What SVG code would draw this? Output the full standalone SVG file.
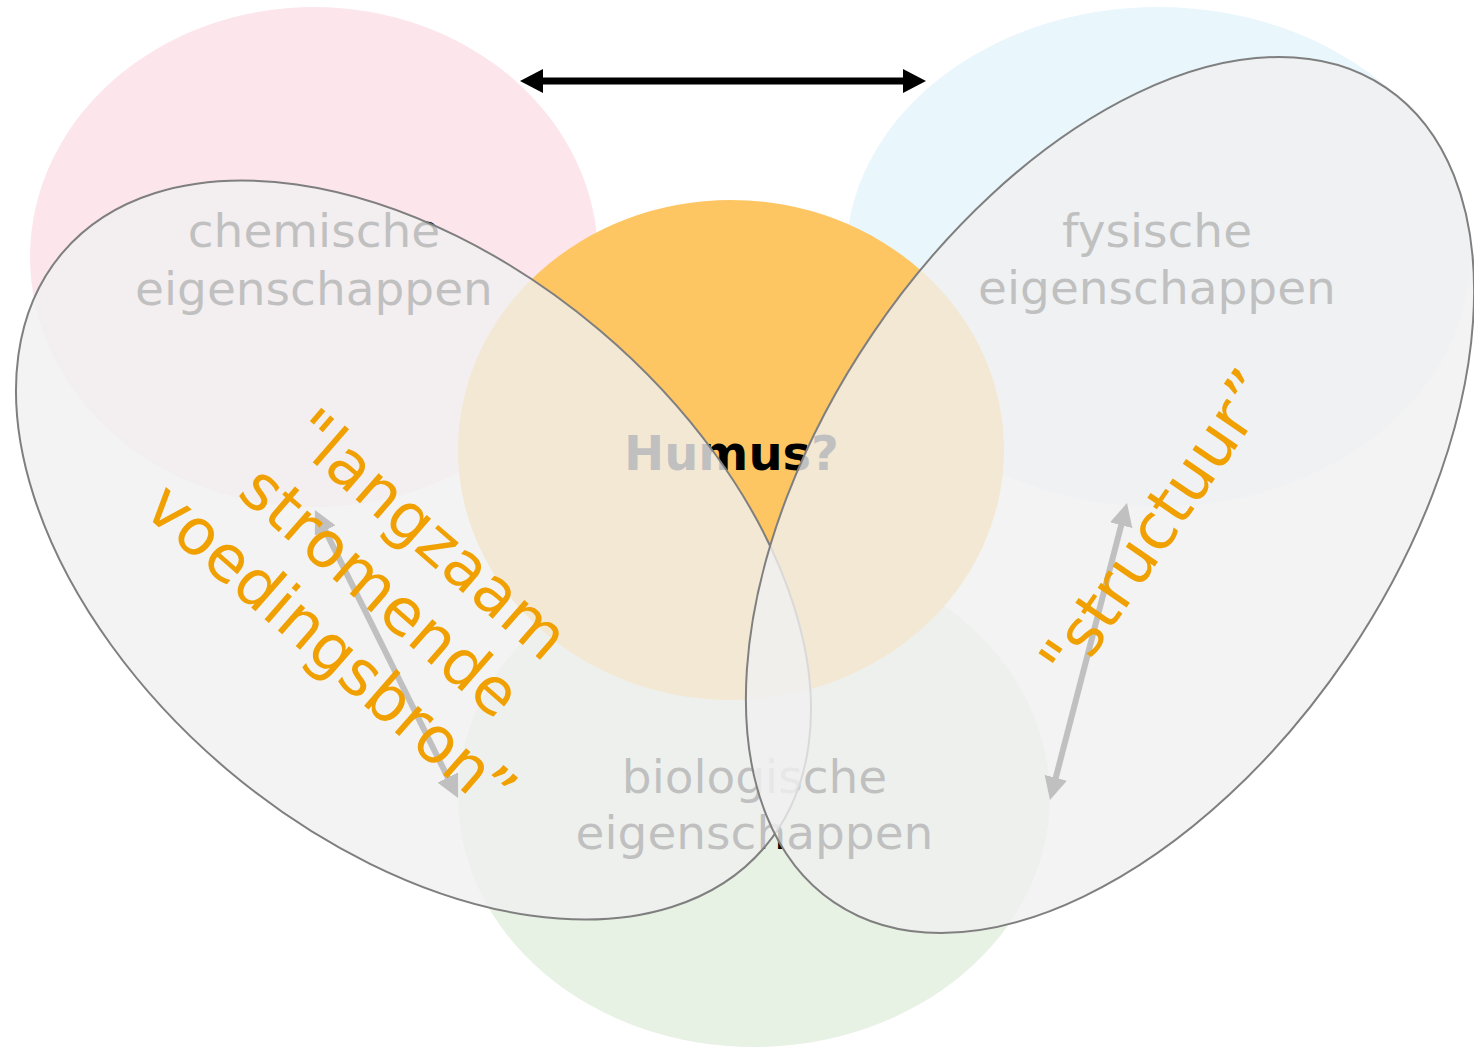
<svg xmlns="http://www.w3.org/2000/svg" width="1474" height="1048" viewBox="0 0 1474 1048">
<style>
  .lbl { font-family: "DejaVu Sans", Verdana, sans-serif; font-size: 47px; fill: #000; text-anchor: middle; }
  .humus { font-family: "DejaVu Sans", Verdana, sans-serif; font-size: 48px; font-weight: bold; fill: #000; text-anchor: middle; }
  .big { fill: #f0f0f0; fill-opacity: 0.8; stroke: #7f7f7f; stroke-width: 2; }
  .orange { font-family: "DejaVu Sans", Verdana, sans-serif; font-size: 64px; fill: #f0a000; text-anchor: middle; }
  .black-arrow { stroke: #000; stroke-width: 7; fill: none; marker-start: url(#blackHead); marker-end: url(#blackHead); }
  .gray-arrow { stroke: #c0c0c0; stroke-width: 6; fill: none; marker-start: url(#grayHead); marker-end: url(#grayHead); }
</style>
<defs>
  <marker id="blackHead" viewBox="0 0 23 24" refX="11" refY="12" markerWidth="23" markerHeight="24" markerUnits="userSpaceOnUse" orient="auto-start-reverse">
    <path d="M0,0 L23,12 L0,24 z" fill="#000"/>
  </marker>
  <marker id="grayHead" viewBox="0 0 23 23" refX="11" refY="11.5" markerWidth="23" markerHeight="23" markerUnits="userSpaceOnUse" orient="auto-start-reverse">
    <path d="M0,0 L23,11.5 L0,23 z" fill="#c0c0c0"/>
  </marker>
</defs>
<rect width="1474" height="1048" fill="#fff"/>

<g id="node-chemisch">
  <ellipse cx="314" cy="257" rx="284" ry="250" fill="#fce6ec"/>
  <text class="lbl" x="314" y="247">chemische</text>
  <text class="lbl" x="314" y="305">eigenschappen</text>
</g>
<g id="node-fysisch">
  <ellipse cx="1158" cy="257" rx="312" ry="250" fill="#e9f6fc"/>
  <text class="lbl" x="1157" y="247">fysische</text>
  <text class="lbl" x="1157" y="304">eigenschappen</text>
</g>
<g id="node-biologisch">
  <ellipse cx="754" cy="797" rx="296" ry="250" fill="#e7f1e4"/>
  <text class="lbl" x="754.5" y="793">biologische</text>
  <text class="lbl" x="754.5" y="849">eigenschappen</text>
</g>
<g id="node-humus">
  <ellipse cx="731" cy="450" rx="273" ry="250" fill="#fdc663"/>
  <text class="humus" x="731.5" y="470">Humus?</text>
</g>

<g id="node-voedingsbron">
  <ellipse class="big" cx="413.5" cy="550" rx="460" ry="288" transform="rotate(40.2 413.5 550)"/>
</g>
<g id="node-structuur">
  <ellipse class="big" cx="1110" cy="495" rx="492" ry="287" transform="rotate(-55.9 1110 495)"/>
</g>

<g id="connectors">
  <line class="black-arrow" x1="532" y1="81" x2="914" y2="81"/>
  <line class="gray-arrow" x1="320.3" y1="520.7" x2="452.7" y2="787.3"/>
  <line class="gray-arrow" x1="1124" y1="514.6" x2="1053" y2="788.4"/>
</g>

<g id="label-voedingsbron" transform="translate(377 595) rotate(41)">
  <text class="orange" x="0" y="-58">"langzaam</text>
  <text class="orange" x="0" y="17">stromende</text>
  <text class="orange" x="0" y="92">voedingsbron”</text>
</g>
<g id="label-structuur" transform="translate(1175 537) rotate(-55.5)">
  <text class="orange" x="0" y="0">"structuur”</text>
</g>
</svg>
